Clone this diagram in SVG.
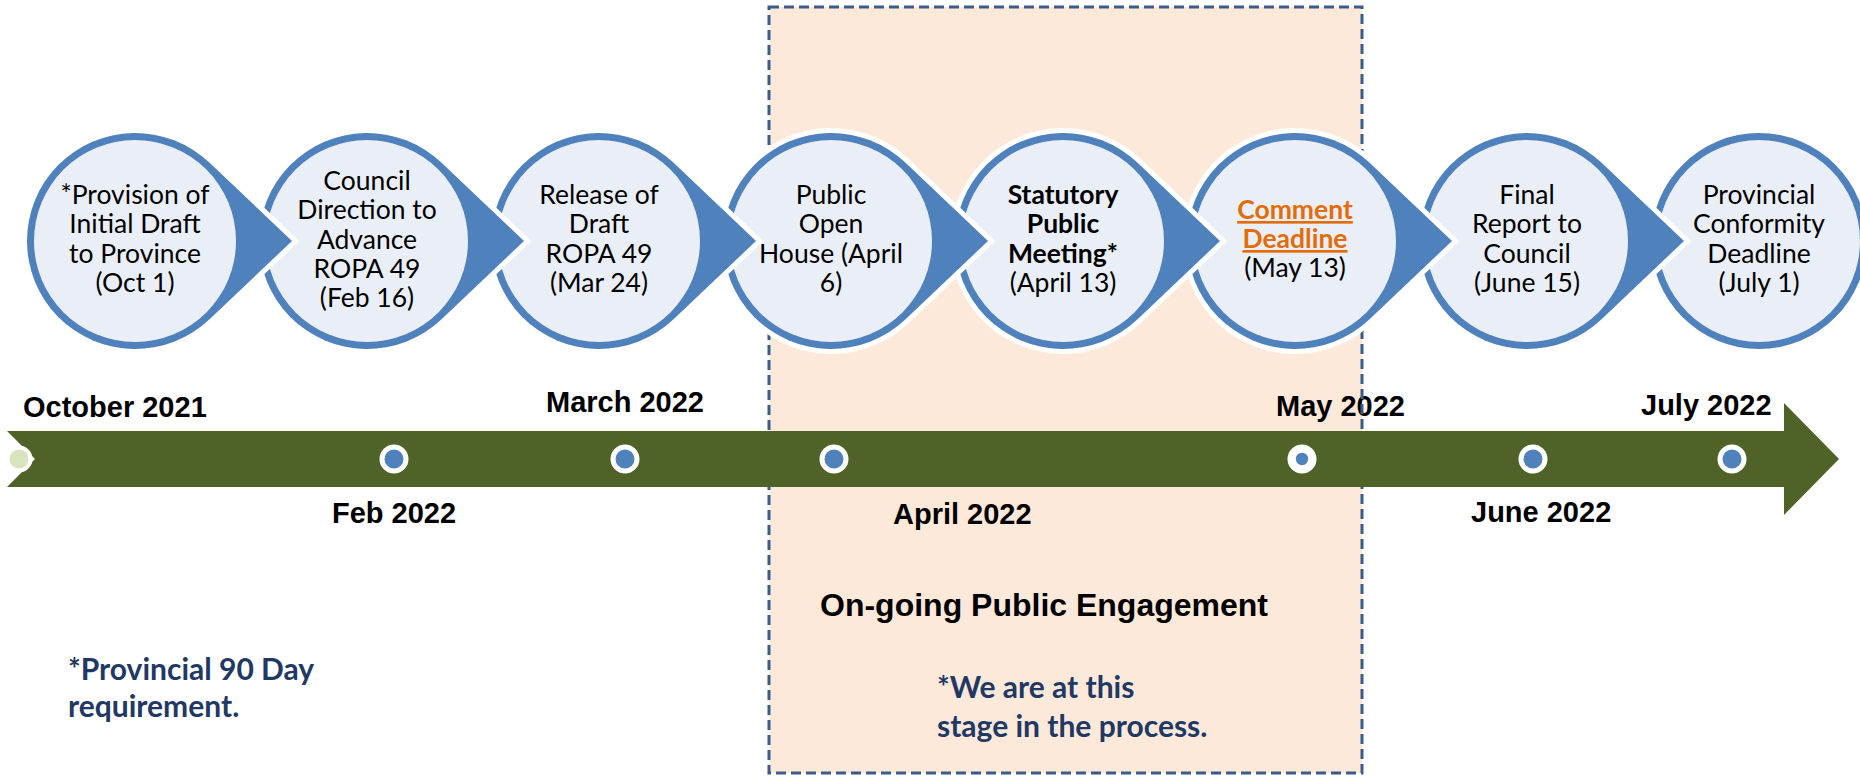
<svg xmlns="http://www.w3.org/2000/svg" xmlns:xlink="http://www.w3.org/1999/xlink" width="1860" height="776" viewBox="0 0 1860 776">
<style>
.tear{fill:#4F81BD;stroke:#FFFFFF;stroke-width:10;paint-order:stroke;stroke-linejoin:miter}
.ring{fill:#4F81BD;stroke:#FFFFFF;stroke-width:10;paint-order:stroke}
.inner{fill:#EAEFF7}
.t{font-family:Lato,"Liberation Sans",sans-serif;font-size:26.5px;text-anchor:middle;fill:#000000}
.b{font-weight:bold}
.or{fill:#E36C09;text-decoration:underline}
.m{font-family:"Liberation Sans",Arial,sans-serif;font-weight:bold;font-size:29px;fill:#000000}
.big{font-family:"Liberation Sans",Arial,sans-serif;font-weight:bold;font-size:32px;fill:#000000}
.note{font-family:Lato,"Liberation Sans",sans-serif;font-weight:bold;font-size:30px;fill:#1F3864}
.dot{fill:#4F81BD;stroke:#FFFFFF;stroke-width:5}
</style>
<defs>
<path id="tearShape" d="M157 241 L74.3 162.6 A108 108 0 1 0 74.3 319.4 Z"/>
</defs>
<rect width="1860" height="776" fill="#FFFFFF"/>

<g id="engagement-box-fill">
<rect x="769" y="7" width="593" height="766" fill="#FDE9D9"/>
<text class="big" x="820" y="616">On-going Public Engagement</text>
<text class="note" x="937" y="698">*We are at this</text>
<text class="note" x="937" y="737">stage in the process.</text>
</g>

<g id="note-provincial">
<text class="note" x="68" y="680">*Provincial 90 Day</text>
<text class="note" x="68" y="717">requirement.</text>
</g>

<g id="month-labels">
<text class="m" x="23" y="417">October 2021</text>
<text class="m" x="394" y="523" text-anchor="middle">Feb 2022</text>
<text class="m" x="625" y="412" text-anchor="middle">March 2022</text>
<text class="m" x="893" y="524">April 2022</text>
<text class="m" x="1276" y="416">May 2022</text>
<text class="m" x="1471" y="522">June 2022</text>
<text class="m" x="1641" y="415">July 2022</text>
</g>

<g id="engagement-box-border">
<rect x="769" y="7" width="593" height="766" fill="none" stroke="#385D8A" stroke-width="3" stroke-dasharray="10 5"/>
</g>

<g id="node-8" transform="translate(1759,0)">
<circle class="ring" cx="0" cy="241" r="108"/>
<circle class="inner" cx="0" cy="241" r="101"/>
<text class="t" x="0" y="204">Provincial</text>
<text class="t" x="0" y="233.3">Conformity</text>
<text class="t" x="0" y="262.6">Deadline</text>
<text class="t" x="0" y="292">(July 1)</text>
</g>

<g id="node-7" transform="translate(1527,0)">
<use href="#tearShape" class="tear"/>
<circle class="inner" cx="0" cy="241" r="101"/>
<text class="t" x="0" y="204">Final</text>
<text class="t" x="0" y="233.3">Report to</text>
<text class="t" x="0" y="262.6">Council</text>
<text class="t" x="0" y="292">(June 15)</text>
</g>

<g id="node-6" transform="translate(1295,0)">
<use href="#tearShape" class="tear"/>
<circle class="inner" cx="0" cy="241" r="101"/>
<text class="t b or" x="0" y="219">Comment</text>
<text class="t b or" x="0" y="248">Deadline</text>
<text class="t" x="0" y="277">(May 13)</text>
</g>

<g id="node-5" transform="translate(1063,0)">
<use href="#tearShape" class="tear"/>
<circle class="inner" cx="0" cy="241" r="101"/>
<text class="t b" x="0" y="204">Statutory</text>
<text class="t b" x="0" y="233.3">Public</text>
<text class="t b" x="0" y="262.6">Meeting*</text>
<text class="t" x="0" y="292">(April 13)</text>
</g>

<g id="node-4" transform="translate(831,0)">
<use href="#tearShape" class="tear"/>
<circle class="inner" cx="0" cy="241" r="101"/>
<text class="t" x="0" y="204">Public</text>
<text class="t" x="0" y="233.3">Open</text>
<text class="t" x="0" y="262.6">House (April</text>
<text class="t" x="0" y="292">6)</text>
</g>

<g id="node-3" transform="translate(599,0)">
<use href="#tearShape" class="tear"/>
<circle class="inner" cx="0" cy="241" r="101"/>
<text class="t" x="0" y="204">Release of</text>
<text class="t" x="0" y="233.3">Draft</text>
<text class="t" x="0" y="262.6">ROPA 49</text>
<text class="t" x="0" y="292">(Mar 24)</text>
</g>

<g id="node-2" transform="translate(367,0)">
<use href="#tearShape" class="tear"/>
<circle class="inner" cx="0" cy="241" r="101"/>
<text class="t" x="0" y="190">Council</text>
<text class="t" x="0" y="219.3">Direction to</text>
<text class="t" x="0" y="248.6">Advance</text>
<text class="t" x="0" y="278">ROPA 49</text>
<text class="t" x="0" y="307.3">(Feb 16)</text>
</g>

<g id="node-1" transform="translate(135,0)">
<use href="#tearShape" class="tear"/>
<circle class="inner" cx="0" cy="241" r="101"/>
<text class="t" x="0" y="204">*Provision of</text>
<text class="t" x="0" y="233.3">Initial Draft</text>
<text class="t" x="0" y="262.6">to Province</text>
<text class="t" x="0" y="292">(Oct 1)</text>
</g>

<g id="timeline">
<path d="M7 431 L1784 431 L1784 403 L1839 459 L1784 515 L1784 487 L7 487 L35 459 Z" fill="#4F6228"/>
<circle cx="19" cy="459" r="11.5" fill="#D7E4BD" stroke="#FFFFFF" stroke-width="4"/>
<circle class="dot" cx="394" cy="459" r="12"/>
<circle class="dot" cx="625" cy="459" r="12"/>
<circle class="dot" cx="834" cy="459" r="12"/>
<circle cx="1302" cy="459" r="14.5" fill="#FFFFFF"/>
<circle cx="1302" cy="459" r="6.2" fill="#4F81BD"/>
<circle class="dot" cx="1533" cy="459" r="12"/>
<circle class="dot" cx="1732" cy="459" r="12"/>
</g>
</svg>
